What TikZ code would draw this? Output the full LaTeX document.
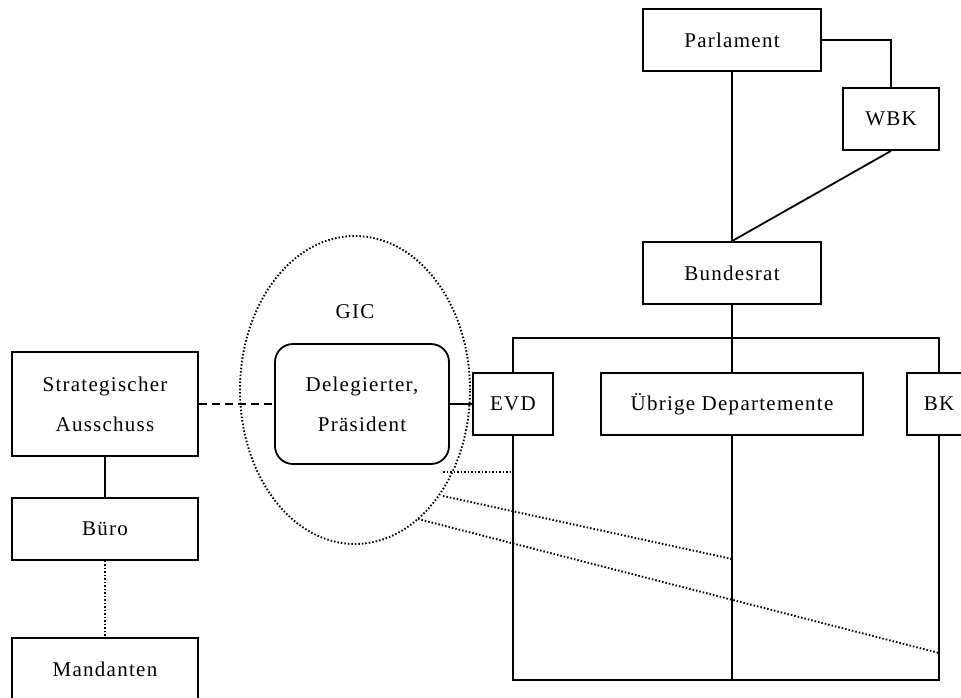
\documentclass[tikz,border=0pt]{standalone}
\usepackage{fontspec}
\setmainfont{Liberation Serif}[LetterSpace=6]
\usetikzlibrary{shapes.geometric}
\begin{document}
\begin{tikzpicture}[x=1pt,y=-1pt,
  line width=1.8pt,
  every node/.style={font=\fontsize{21}{40}\selectfont, inner sep=0pt, align=center},
  box/.style={draw, rectangle, line width=1.8pt},
  roundbox/.style={draw, rectangle, rounded corners=18pt, line width=1.8pt},
  dotline/.style={line width=1.9pt, dash pattern=on 1.5pt off 2pt},
  dashline/.style={line width=1.8pt, dash pattern=on 8pt off 5pt}]
\useasboundingbox (0,0) rectangle (961,697);
\clip (0,0) rectangle (961,697);

% upper hierarchy
\node[box, minimum width=178pt, minimum height=62pt] (parl) at (732,40) {Parlament};
\node[box, minimum width=96pt, minimum height=62pt] (wbk) at (891,119) {WBK};
\node[box, minimum width=178pt, minimum height=62pt] (brat) at (732,273) {Bundesrat};

% departments
\node[box, minimum width=80pt, minimum height=62pt] (evd) at (513,404) {EVD};
\node[box, minimum width=262pt, minimum height=62pt] (ueb) at (732,404) {Übrige Departemente};
\node[box, minimum width=64pt, minimum height=62pt] (bk) at (939,404) {BK};

% GIC group
\node[draw, ellipse, dotline, minimum width=230pt, minimum height=308pt] (gic) at (355,390) {};
\node (gictext) at (355,312) {GIC};
\node[roundbox, minimum width=174pt, minimum height=120pt] (del) at (362,404) {Delegierter,\\Präsident};

% left column
\node[box, minimum width=186pt, minimum height=104pt] (sa) at (105,404) {Strategischer\\Ausschuss};
\node[box, minimum width=186pt, minimum height=62pt] (buero) at (105,529) {Büro};
\node[box, minimum width=186pt, minimum height=62pt] (mand) at (105,669) {Mandanten};

% bus lines
\coordinate (top) at (0,338);
\coordinate (bot) at (0,680);

% connectors
\draw (parl.east) -| (wbk.north);
\draw (parl.south) -- (brat.north);
\draw (wbk.south) -- (brat.north);
\draw (brat.south) -- (brat.south |- top);
\draw (evd.north) -- (evd.north |- top) -- (bk.north |- top) -- (bk.north);
\draw (ueb.north) -- (ueb.north |- top);
\draw (evd.south) -- (evd.south |- bot) -- (bk.south |- bot) -- (bk.south);
\draw (ueb.south) -- (ueb.south |- bot);
\draw (del.east) -- (evd.west);
\draw[dashline] (sa.east) -- (del.west);
\draw (sa.south) -- (buero.north);
\draw[dotline] (buero.south) -- (mand.north);

% dotted links from the GIC group
\coordinate (g1) at (443,472);
\coordinate (g2) at (443,496);
\coordinate (g3) at (418,519);
\coordinate (e1) at (513,472);
\coordinate (e2) at (732,559);
\coordinate (e3) at (939,653);
\draw[dotline] (g1) -- (e1);
\draw[dotline] (g2) -- (e2);
\draw[dotline] (g3) -- (e3);
\end{tikzpicture}
\end{document}
